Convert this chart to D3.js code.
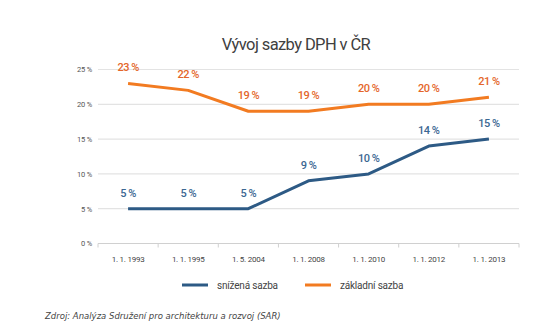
<!DOCTYPE html>
<html>
<head>
<meta charset="utf-8">
<script src="https://cdn.jsdelivr.net/npm/d3@7"></script>
<style>
  body { margin: 0; background: #fff; }
  svg { display: block; }
</style>
</head>
<body>
<svg id="chart"></svg>
<script>
// Vývoj sazeb DPH v ČR
const dates = ['1. 1. 1993', '1. 1. 1995', '1. 5. 2004', '1. 1. 2008', '1. 1. 2010', '1. 1. 2012', '1. 1. 2013']
const reducedRate = [5, 5, 5, 9, 10, 14, 15]
const standardRate = [23, 22, 19, 19, 20, 20, 21]
const yTicks = [0, 5, 10, 15, 20, 25]

const svgWidth = 538
const svgHeight = 329
const margin = { top: 69.5, right: 19, bottom: 85.5, left: 98 }
const width = svgWidth - margin.left - margin.right
const height = svgHeight - margin.top - margin.bottom

const blue = '#2d5a85'
const orange = '#f27b21'
const font = 'Roboto, "Open Sans", sans-serif'

const svg = d3.select('#chart')
  .attr('width', svgWidth)
  .attr('height', svgHeight)

// Title
svg.append('text')
  .attr('x', 296)
  .attr('y', 50)
  .attr('text-anchor', 'middle')
  .attr('font-family', font)
  .attr('font-size', 16.5)
  .attr('fill', '#404040')
  .attr('letter-spacing', -0.6)
  .text('Vývoj sazby DPH v ČR')

const g = svg.append('g')
  .attr('transform', `translate(${margin.left}, ${margin.top})`)

const xScale = d3.scaleBand()
  .domain(dates)
  .range([0, width])

const yScale = d3.scaleLinear()
  .domain([0, 25])
  .range([height, 0])

// Horizontal gridlines
g.selectAll('.grid')
  .data(yTicks.filter(d => d > 0))
  .enter()
  .append('line')
  .attr('x1', 0)
  .attr('x2', width)
  .attr('y1', d => yScale(d))
  .attr('y2', d => yScale(d))
  .attr('stroke', '#e3e3e3')
  .attr('stroke-width', 1.2)

// Y axis labels
const yAxis = d3.axisLeft(yScale)
  .tickValues(yTicks)
  .tickSize(0)
  .tickPadding(6)
  .tickFormat(d => d + ' %')
g.append('g')
  .call(yAxis)
  .call(a => a.select('.domain').remove())
  .call(a => a.selectAll('text')
    .attr('font-family', font)
    .attr('font-size', 7.5)
    .attr('letter-spacing', -0.2)
    .attr('fill', '#555'))

// X axis with ticks at band edges
const xAxisG = g.append('g')
  .attr('transform', `translate(0, ${height})`)
xAxisG.append('line')
  .attr('x1', 0)
  .attr('x2', width)
  .attr('stroke', '#d0d0d0')
  .attr('stroke-width', 1)
xAxisG.selectAll('.tick-edge')
  .data(d3.range(dates.length + 1))
  .enter()
  .append('line')
  .attr('x1', i => i * xScale.step())
  .attr('x2', i => i * xScale.step())
  .attr('y1', 0)
  .attr('y2', 4)
  .attr('stroke', '#d0d0d0')
xAxisG.selectAll('.xlabel')
  .data(dates)
  .enter()
  .append('text')
  .attr('x', d => xScale(d) + xScale.bandwidth() / 2)
  .attr('y', 18.5)
  .attr('text-anchor', 'middle')
  .attr('font-family', font)
  .attr('font-size', 8)
  .attr('letter-spacing', -0.25)
  .attr('fill', '#444')
  .text(d => d)

const cx = d => xScale(d) + xScale.bandwidth() / 2
const line = d3.line()
  .x((d, i) => cx(dates[i]))
  .y(d => yScale(d))

const series = [
  { name: 'snížená sazba', values: reducedRate, color: blue, labelColor: '#3b6792' },
  { name: 'základní sazba', values: standardRate, color: orange, labelColor: '#e4662a' }
]

series.forEach(s => {
  g.append('path')
    .datum(s.values)
    .attr('d', line)
    .attr('fill', 'none')
    .attr('stroke', s.color)
    .attr('stroke-width', 3)
    .attr('stroke-linejoin', 'round')

  g.selectAll(null)
    .data(s.values)
    .enter()
    .append('text')
    .attr('x', (d, i) => cx(dates[i]))
    .attr('y', d => yScale(d) - 12)
    .attr('text-anchor', 'middle')
    .attr('font-family', font)
    .attr('font-size', 11)
    .attr('font-weight', 500)
    .attr('fill', s.labelColor)
    .attr('letter-spacing', -0.5)
    .text(d => d + ' %')
})

// Legend
const legend = svg.append('g')
  .attr('transform', 'translate(0, 285)')
const legendItems = [
  { x: 182, ...series[0] },
  { x: 305, ...series[1] }
]
legendItems.forEach(item => {
  legend.append('line')
    .attr('x1', item.x)
    .attr('x2', item.x + 26)
    .attr('stroke', item.color)
    .attr('stroke-width', 3)
  legend.append('text')
    .attr('x', item.x + 35)
    .attr('y', 3.5)
    .attr('font-family', font)
    .attr('font-size', 10)
    .attr('letter-spacing', -0.2)
    .attr('fill', '#444')
    .text(item.name)
})

// Source note
svg.append('text')
  .attr('x', 45)
  .attr('y', 319)
  .attr('font-family', '"DejaVu Sans", Verdana, sans-serif')
  .attr('font-size', 8.5)
  .attr('font-style', 'italic')
  .attr('fill', '#444')
  .text('Zdroj: Analýza Sdružení pro architekturu a rozvoj (SAR)')
</script>
</body>
</html>
